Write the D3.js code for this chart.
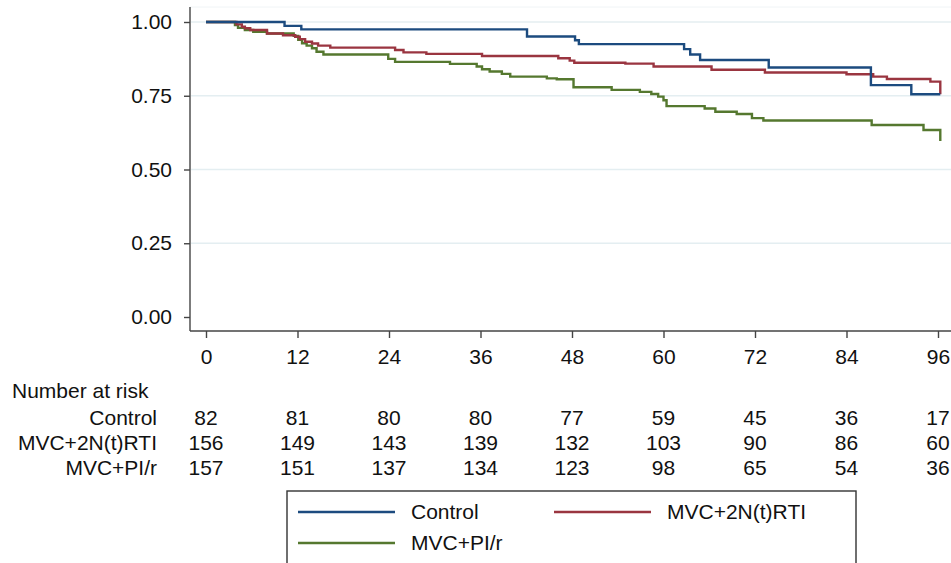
<!DOCTYPE html>
<html>
<head>
<meta charset="utf-8">
<script src="https://cdn.jsdelivr.net/npm/d3@7"></script>
<style>
    body { margin: 0; background: #fff; }
    text { font-family: "Liberation Sans", Arial, sans-serif; fill: #111; }
</style>
</head>
<body>
<div id="chart"></div>
<script>
// survival step data (months, proportion surviving)
let controlTimes = [0, 10.3, 12.5, 42.1, 48.4, 48.9, 62.7, 63.5, 64.8, 73.8, 87.2, 92.5, 96.3];
let controlSurv  = [1, 0.987, 0.975, 0.951, 0.938, 0.925, 0.908, 0.890, 0.871, 0.846, 0.786, 0.755, 0.755];

let nrtiTimes = [0, 4.0, 4.7, 5.1, 5.8, 8.0, 10.1, 11.7, 12.3, 13.0, 13.9, 14.7, 16.3, 24.8, 25.9, 28.9,
    36.2, 46.2, 47.7, 48.3, 55.0, 58.7, 66.3, 73.3, 84.0, 87.5, 89.3, 95.0, 96.3];
let nrtiSurv  = [1, 0.992, 0.984, 0.979, 0.973, 0.961, 0.955, 0.950, 0.942, 0.933, 0.927, 0.920, 0.913, 0.905, 0.897, 0.892,
    0.885, 0.877, 0.869, 0.862, 0.859, 0.849, 0.838, 0.829, 0.823, 0.815, 0.807, 0.798, 0.755];

let pirTimes = [0, 3.8, 4.2, 5.1, 6.2, 8.0, 11.5, 12.1, 12.6, 13.2, 13.9, 14.5, 15.4, 23.9, 24.8, 32.0,
    35.5, 36.2, 37.2, 38.8, 39.9, 44.7, 46.0, 48.2, 53.2, 56.9, 58.4, 59.3, 60.0, 60.4,
    65.4, 66.8, 69.6, 71.6, 73.1, 87.3, 94.1, 96.3];
let pirSurv  = [1, 0.990, 0.980, 0.973, 0.967, 0.961, 0.953, 0.940, 0.928, 0.920, 0.911, 0.899, 0.890, 0.875, 0.865, 0.858,
    0.849, 0.840, 0.832, 0.824, 0.815, 0.809, 0.806, 0.779, 0.770, 0.763, 0.756, 0.747, 0.735, 0.715,
    0.707, 0.696, 0.688, 0.674, 0.666, 0.651, 0.634, 0.597];

let groupNames = ["Control", "MVC+2N(t)RTI", "MVC+PI/r"];
let groupColors = ["#1c4b7f", "#9a3540", "#55782f"];

let xTicks = [0, 12, 24, 36, 48, 60, 72, 84, 96];
let yTicks = [0, 0.25, 0.5, 0.75, 1];

let riskControl = [82, 81, 80, 80, 77, 59, 45, 36, 17];
let riskNrti    = [156, 149, 143, 139, 132, 103, 90, 86, 60];
let riskPir     = [157, 151, 137, 134, 123, 98, 65, 54, 36];

let width = 951, height = 563;
let fontSize = 21;

let svg = d3.select("#chart").append("svg")
    .attr("width", width)
    .attr("height", height);

let x = d3.scaleLinear().domain([0, 96]).range([206, 938]);
let y = d3.scaleLinear().domain([0, 1]).range([317, 22]);
let axisX = 190, axisY = 331;

////////// grid //////////
svg.append("g").selectAll("line")
    .data(yTicks.filter(d => d > 0))
    .enter().append("line")
    .attr("x1", axisX + 1).attr("x2", width)
    .attr("y1", y).attr("y2", y)
    .attr("stroke", "#e4eef1")
    .attr("stroke-width", 1.5);

// faint plot region top
svg.append("line")
    .attr("x1", axisX).attr("x2", width)
    .attr("y1", 7).attr("y2", 7)
    .attr("stroke", "#f0f4f6").attr("stroke-width", 1);

////////// axes //////////
let yAxis = d3.axisLeft(y).tickValues(yTicks).tickFormat(d3.format(".2f")).tickSize(6).tickPadding(12);
let gy = svg.append("g").attr("transform", "translate(" + axisX + ",0)").call(yAxis);
gy.select(".domain").attr("d", "M0,7V" + axisY);

let xAxis = d3.axisBottom(x).tickValues(xTicks).tickSize(7).tickPadding(11);
let gx = svg.append("g").attr("transform", "translate(0," + axisY + ")").call(xAxis);
gx.select(".domain").attr("d", "M" + axisX + ",0H" + width);

svg.selectAll(".tick text").style("font-size", fontSize + "px").attr("fill", "#111");
svg.selectAll(".tick line, .domain").attr("stroke", "#444").attr("stroke-width", 1.4);

////////// curves //////////
let line = d3.line()
    .x(d => x(d[0]))
    .y(d => y(d[1]))
    .curve(d3.curveStepAfter);

let series = [
    d3.zip(controlTimes, controlSurv),
    d3.zip(nrtiTimes, nrtiSurv),
    d3.zip(pirTimes, pirSurv)
];

// draw green first so blue/red sit on top
[2, 1, 0].forEach(i => {
    svg.append("path")
        .datum(series[i])
        .attr("d", line)
        .attr("fill", "none")
        .attr("stroke", groupColors[i])
        .attr("stroke-width", 2.4);
});

////////// number at risk //////////
svg.append("text")
    .attr("x", 12).attr("y", 391)
    .attr("dy", "0.35em")
    .style("font-size", fontSize + "px")
    .text("Number at risk");

let riskRows = [riskControl, riskNrti, riskPir];
let rowY = [418, 443, 468];

riskRows.forEach((row, i) => {
    svg.append("text")
        .attr("x", 157).attr("y", rowY[i])
        .attr("dy", "0.35em")
        .attr("text-anchor", "end")
        .style("font-size", fontSize + "px")
        .text(groupNames[i]);
    svg.append("g").selectAll("text")
        .data(row)
        .enter().append("text")
        .attr("x", (d, j) => x(xTicks[j]))
        .attr("y", rowY[i])
        .attr("dy", "0.35em")
        .attr("text-anchor", "middle")
        .style("font-size", fontSize + "px")
        .text(d => d);
});

////////// legend //////////
let legend = svg.append("g");
legend.append("rect")
    .attr("x", 287).attr("y", 491)
    .attr("width", 569).attr("height", 100)
    .attr("fill", "#fff")
    .attr("stroke", "#333")
    .attr("stroke-width", 1.4);

let legendPos = [[298, 512], [554, 512], [298, 543]];
groupNames.forEach((name, i) => {
    let p = legendPos[i];
    legend.append("line")
        .attr("x1", p[0]).attr("x2", p[0] + 97)
        .attr("y1", p[1]).attr("y2", p[1])
        .attr("stroke", groupColors[i])
        .attr("stroke-width", 2.3);
    legend.append("text")
        .attr("x", p[0] + 113).attr("y", p[1])
        .attr("dy", "0.35em")
        .style("font-size", fontSize + "px")
        .text(name);
});
</script>
</body>
</html>
